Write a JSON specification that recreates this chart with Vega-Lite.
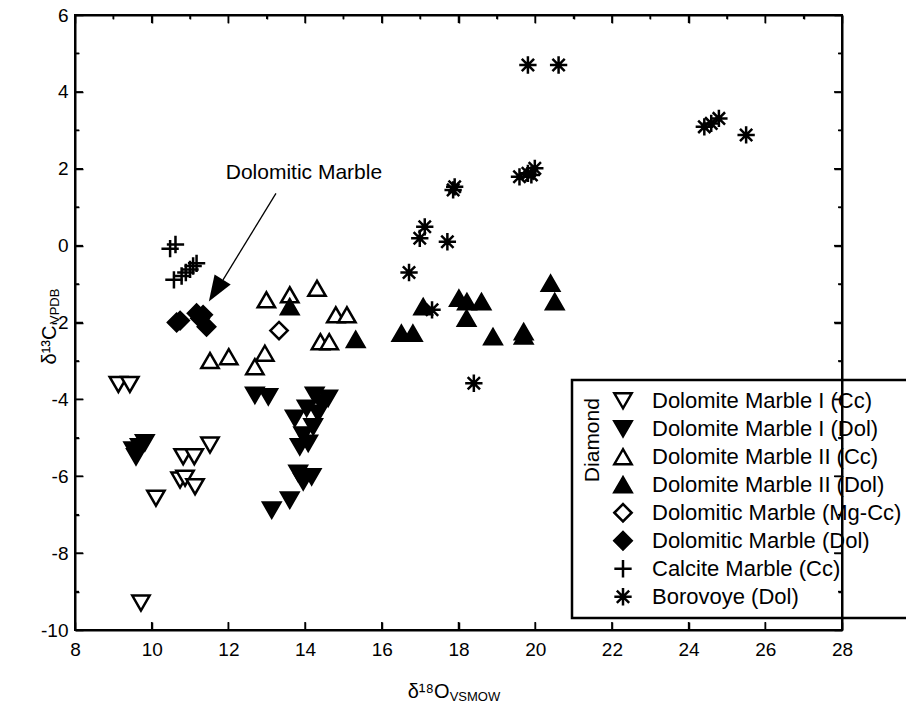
{
  "$schema": "https://vega.github.io/schema/vega-lite/v6.json",
  "width": 767,
  "height": 615,
  "autosize": {"type": "none"},
  "padding": {"left": 75, "top": 15, "right": 64, "bottom": 75},
  "background": "white",
  "config": {
    "font": "Liberation Sans",
    "locale": {"number": {"decimal": ".", "thousands": ",", "grouping": [3], "currency": ["$", ""], "minus": "-"}},
    "view": {"stroke": "black", "strokeWidth": 2},
    "axis": {"grid": false, "domainColor": "black", "domainWidth": 2, "tickColor": "black", "tickWidth": 1.5, "labelFontSize": 19, "labelColor": "black", "titleColor": "black", "titleFontWeight": "normal", "titleFontSize": 20, "labelFlush": false, "labelOverlap": false},
    "legend": {"strokeWidth": 2.5}
  },
  "resolve": {"axis": {"x": "independent", "y": "independent"}},
  "layer": [
    {
      "data": {"values": [
        {"series": "Dolomite Marble I (Cc)", "x": 9.13, "y": -3.61},
        {"series": "Dolomite Marble I (Cc)", "x": 9.43, "y": -3.61},
        {"series": "Dolomite Marble I (Cc)", "x": 10.82, "y": -5.49},
        {"series": "Dolomite Marble I (Cc)", "x": 11.11, "y": -5.49},
        {"series": "Dolomite Marble I (Cc)", "x": 11.52, "y": -5.19},
        {"series": "Dolomite Marble I (Cc)", "x": 10.74, "y": -6.10},
        {"series": "Dolomite Marble I (Cc)", "x": 10.87, "y": -6.05},
        {"series": "Dolomite Marble I (Cc)", "x": 11.13, "y": -6.27},
        {"series": "Dolomite Marble I (Cc)", "x": 10.11, "y": -6.57},
        {"series": "Dolomite Marble I (Cc)", "x": 9.72, "y": -9.30},
        {"series": "Dolomite Marble I (Dol)", "x": 9.82, "y": -5.13},
        {"series": "Dolomite Marble I (Dol)", "x": 9.69, "y": -5.23},
        {"series": "Dolomite Marble I (Dol)", "x": 9.59, "y": -5.49},
        {"series": "Dolomite Marble I (Dol)", "x": 9.52, "y": -5.32},
        {"series": "Dolomite Marble I (Dol)", "x": 12.69, "y": -3.89},
        {"series": "Dolomite Marble I (Dol)", "x": 13.04, "y": -3.93},
        {"series": "Dolomite Marble I (Dol)", "x": 14.25, "y": -3.89},
        {"series": "Dolomite Marble I (Dol)", "x": 14.60, "y": -3.97},
        {"series": "Dolomite Marble I (Dol)", "x": 14.04, "y": -4.23},
        {"series": "Dolomite Marble I (Dol)", "x": 13.73, "y": -4.49},
        {"series": "Dolomite Marble I (Dol)", "x": 14.34, "y": -4.36},
        {"series": "Dolomite Marble I (Dol)", "x": 14.43, "y": -4.10},
        {"series": "Dolomite Marble I (Dol)", "x": 14.21, "y": -4.71},
        {"series": "Dolomite Marble I (Dol)", "x": 13.95, "y": -4.93},
        {"series": "Dolomite Marble I (Dol)", "x": 13.86, "y": -5.23},
        {"series": "Dolomite Marble I (Dol)", "x": 14.08, "y": -5.14},
        {"series": "Dolomite Marble I (Dol)", "x": 13.82, "y": -5.92},
        {"series": "Dolomite Marble I (Dol)", "x": 14.17, "y": -6.01},
        {"series": "Dolomite Marble I (Dol)", "x": 13.95, "y": -6.14},
        {"series": "Dolomite Marble I (Dol)", "x": 13.60, "y": -6.62},
        {"series": "Dolomite Marble I (Dol)", "x": 13.13, "y": -6.88},
        {"series": "Dolomite Marble II (Cc)", "x": 11.52, "y": -2.99},
        {"series": "Dolomite Marble II (Cc)", "x": 12.01, "y": -2.89},
        {"series": "Dolomite Marble II (Cc)", "x": 12.95, "y": -2.80},
        {"series": "Dolomite Marble II (Cc)", "x": 12.69, "y": -3.15},
        {"series": "Dolomite Marble II (Cc)", "x": 12.99, "y": -1.41},
        {"series": "Dolomite Marble II (Cc)", "x": 13.60, "y": -1.28},
        {"series": "Dolomite Marble II (Cc)", "x": 14.31, "y": -1.11},
        {"series": "Dolomite Marble II (Cc)", "x": 14.80, "y": -1.80},
        {"series": "Dolomite Marble II (Cc)", "x": 15.09, "y": -1.80},
        {"series": "Dolomite Marble II (Cc)", "x": 14.40, "y": -2.50},
        {"series": "Dolomite Marble II (Cc)", "x": 14.63, "y": -2.50},
        {"series": "Dolomite Marble II (Dol)", "x": 13.60, "y": -1.59},
        {"series": "Dolomite Marble II (Dol)", "x": 15.32, "y": -2.44},
        {"series": "Dolomite Marble II (Dol)", "x": 16.51, "y": -2.28},
        {"series": "Dolomite Marble II (Dol)", "x": 16.81, "y": -2.28},
        {"series": "Dolomite Marble II (Dol)", "x": 17.08, "y": -1.59},
        {"series": "Dolomite Marble II (Dol)", "x": 18.01, "y": -1.37},
        {"series": "Dolomite Marble II (Dol)", "x": 18.22, "y": -1.46},
        {"series": "Dolomite Marble II (Dol)", "x": 18.60, "y": -1.46},
        {"series": "Dolomite Marble II (Dol)", "x": 18.21, "y": -1.89},
        {"series": "Dolomite Marble II (Dol)", "x": 18.90, "y": -2.37},
        {"series": "Dolomite Marble II (Dol)", "x": 19.70, "y": -2.24},
        {"series": "Dolomite Marble II (Dol)", "x": 19.70, "y": -2.35},
        {"series": "Dolomite Marble II (Dol)", "x": 20.40, "y": -0.98},
        {"series": "Dolomite Marble II (Dol)", "x": 20.51, "y": -1.46},
        {"series": "Dolomitic Marble (Mg-Cc)", "x": 13.32, "y": -2.21},
        {"series": "Dolomitic Marble (Dol)", "x": 10.65, "y": -2.00},
        {"series": "Dolomitic Marble (Dol)", "x": 10.74, "y": -1.95},
        {"series": "Dolomitic Marble (Dol)", "x": 11.17, "y": -1.76},
        {"series": "Dolomitic Marble (Dol)", "x": 11.26, "y": -1.89},
        {"series": "Dolomitic Marble (Dol)", "x": 11.43, "y": -2.11},
        {"series": "Dolomitic Marble (Dol)", "x": 11.34, "y": -1.80},
        {"series": "Calcite Marble (Cc)", "x": 10.48, "y": -0.08},
        {"series": "Calcite Marble (Cc)", "x": 10.62, "y": 0.03},
        {"series": "Calcite Marble (Cc)", "x": 10.58, "y": -0.89},
        {"series": "Calcite Marble (Cc)", "x": 10.78, "y": -0.79},
        {"series": "Calcite Marble (Cc)", "x": 10.89, "y": -0.70},
        {"series": "Calcite Marble (Cc)", "x": 11.00, "y": -0.62},
        {"series": "Calcite Marble (Cc)", "x": 11.08, "y": -0.53},
        {"series": "Calcite Marble (Cc)", "x": 11.17, "y": -0.46},
        {"series": "Borovoye (Dol)", "x": 19.81, "y": 4.70},
        {"series": "Borovoye (Dol)", "x": 20.61, "y": 4.70},
        {"series": "Borovoye (Dol)", "x": 24.41, "y": 3.09},
        {"series": "Borovoye (Dol)", "x": 24.59, "y": 3.18},
        {"series": "Borovoye (Dol)", "x": 24.79, "y": 3.31},
        {"series": "Borovoye (Dol)", "x": 25.50, "y": 2.88},
        {"series": "Borovoye (Dol)", "x": 19.59, "y": 1.79},
        {"series": "Borovoye (Dol)", "x": 19.81, "y": 1.88},
        {"series": "Borovoye (Dol)", "x": 19.99, "y": 2.01},
        {"series": "Borovoye (Dol)", "x": 19.90, "y": 1.84},
        {"series": "Borovoye (Dol)", "x": 17.86, "y": 1.45},
        {"series": "Borovoye (Dol)", "x": 17.90, "y": 1.53},
        {"series": "Borovoye (Dol)", "x": 17.12, "y": 0.49},
        {"series": "Borovoye (Dol)", "x": 16.99, "y": 0.19},
        {"series": "Borovoye (Dol)", "x": 17.71, "y": 0.10},
        {"series": "Borovoye (Dol)", "x": 16.71, "y": -0.70},
        {"series": "Borovoye (Dol)", "x": 17.31, "y": -1.67},
        {"series": "Borovoye (Dol)", "x": 18.40, "y": -3.58}
      ]},
      "mark": {"type": "point", "filled": true, "stroke": "black", "strokeWidth": 2.5, "size": 300, "opacity": 1},
      "encoding": {
        "x": {"field": "x", "type": "quantitative", "scale": {"domain": [8, 28], "nice": false, "zero": false},
          "axis": {"orient": "bottom", "values": [8, 10, 12, 14, 16, 18, 20, 22, 24, 26, 28], "tickSize": -8, "labelPadding": 18,
            "title": "δ¹⁸O", "titleX": 374, "titleY": 67, "titleAlign": "right", "titleBaseline": "alphabetic"}},
        "y": {"field": "y", "type": "quantitative", "scale": {"domain": [-10, 6], "nice": false, "zero": false},
          "axis": {"orient": "left", "values": [-10, -9, -8, -7, -6, -5, -4, -3, -2, -1, 0, 1, 2, 3, 4, 5, 6],
            "tickSize": {"condition": {"test": "datum.value % 2 === 0", "value": -8}, "value": -4},
            "labelPadding": 15, "labelOpacity": {"condition": {"test": "datum.value % 2 === 0", "value": 1}, "value": 0},
            "title": "δ¹³C", "titleX": -20, "titleY": 349, "titleAngle": 270, "titleAlign": "left", "titleBaseline": "alphabetic"}},
        "shape": {"field": "series", "type": "nominal",
          "scale": {"domain": ["Dolomite Marble I (Cc)", "Dolomite Marble I (Dol)", "Dolomite Marble II (Cc)", "Dolomite Marble II (Dol)", "Dolomitic Marble (Mg-Cc)", "Dolomitic Marble (Dol)", "Calcite Marble (Cc)", "Borovoye (Dol)"],
            "range": ["triangle-down", "triangle-down", "triangle-up", "triangle-up", "diamond", "diamond", "M-1,0L1,0M0,-1L0,1", "M0,-1L0,1M-1,0L1,0M-0.71,-0.71L0.71,0.71M-0.71,0.71L0.71,-0.71"]},
          "legend": {"title": null, "orient": "none", "legendX": 497, "legendY": 365, "padding": 7, "strokeColor": "black", "symbolOffset": 33, "labelOffset": 18, "labelFontSize": 22, "labelColor": "black", "clipHeight": 27.5, "rowPadding": 0, "symbolSize": 300, "symbolStrokeWidth": 2.5, "labelLimit": 400,
            "encode": {"symbols": {"stroke": {"value": "black"}, "strokeWidth": {"value": 2.5}}}}},
        "fill": {"field": "series", "type": "nominal",
          "scale": {"domain": ["Dolomite Marble I (Cc)", "Dolomite Marble I (Dol)", "Dolomite Marble II (Cc)", "Dolomite Marble II (Dol)", "Dolomitic Marble (Mg-Cc)", "Dolomitic Marble (Dol)", "Calcite Marble (Cc)", "Borovoye (Dol)"],
            "range": ["white", "black", "white", "black", "white", "black", "black", "black"]},
          "legend": {"title": null, "orient": "none", "legendX": 497, "legendY": 365, "padding": 7, "strokeColor": "black", "symbolOffset": 33, "labelOffset": 18, "labelFontSize": 22, "labelColor": "black", "clipHeight": 27.5, "rowPadding": 0, "symbolSize": 300, "symbolStrokeWidth": 2.5, "labelLimit": 400,
            "encode": {"symbols": {"stroke": {"value": "black"}, "strokeWidth": {"value": 2.5}}}}}
      }
    },
    {
      "data": {"values": [{"x": 13.97, "y": 1.88, "label": "Dolomitic Marble"}]},
      "mark": {"type": "text", "fontSize": 21, "align": "center", "baseline": "middle", "color": "black"},
      "encoding": {
        "x": {"field": "x", "type": "quantitative", "scale": {"domain": [8, 28], "nice": false, "zero": false},
          "axis": {"orient": "top", "values": [8, 9, 10, 11, 12, 13, 14, 15, 16, 17, 18, 19, 20, 21, 22, 23, 24, 25, 26, 27, 28],
            "tickSize": {"condition": {"test": "datum.value % 2 === 0", "value": -8}, "value": -4}, "labels": false, "title": null}},
        "y": {"field": "y", "type": "quantitative", "scale": {"domain": [-10, 6], "nice": false, "zero": false},
          "axis": {"orient": "right", "values": [-10, -9, -8, -7, -6, -5, -4, -3, -2, -1, 0, 1, 2, 3, 4, 5, 6],
            "tickSize": {"condition": {"test": "datum.value % 2 === 0", "value": -8}, "value": -4}, "labels": false, "title": null}},
        "text": {"field": "label"}
      }
    },
    {
      "data": {"values": [
        {"x": 8, "x2": 8.104, "y": -9, "y2": -9},
        {"x": 8, "x2": 8.208, "y": -8, "y2": -8},
        {"x": 8, "x2": 8.104, "y": -7, "y2": -7},
        {"x": 8, "x2": 8.208, "y": -6, "y2": -6},
        {"x": 8, "x2": 8.104, "y": -5, "y2": -5},
        {"x": 8, "x2": 8.208, "y": -4, "y2": -4},
        {"x": 8, "x2": 8.104, "y": -3, "y2": -3},
        {"x": 8, "x2": 8.208, "y": -2, "y2": -2},
        {"x": 8, "x2": 8.104, "y": -1, "y2": -1},
        {"x": 8, "x2": 8.208, "y": 0, "y2": 0},
        {"x": 8, "x2": 8.104, "y": 1, "y2": 1},
        {"x": 8, "x2": 8.208, "y": 2, "y2": 2},
        {"x": 8, "x2": 8.104, "y": 3, "y2": 3},
        {"x": 8, "x2": 8.208, "y": 4, "y2": 4},
        {"x": 8, "x2": 8.104, "y": 5, "y2": 5},
        {"x": 28, "x2": 27.896, "y": -9, "y2": -9},
        {"x": 28, "x2": 27.792, "y": -8, "y2": -8},
        {"x": 28, "x2": 27.896, "y": -7, "y2": -7},
        {"x": 28, "x2": 27.792, "y": -6, "y2": -6},
        {"x": 28, "x2": 27.896, "y": -5, "y2": -5},
        {"x": 28, "x2": 27.792, "y": -4, "y2": -4},
        {"x": 28, "x2": 27.896, "y": -3, "y2": -3},
        {"x": 28, "x2": 27.792, "y": -2, "y2": -2},
        {"x": 28, "x2": 27.896, "y": -1, "y2": -1},
        {"x": 28, "x2": 27.792, "y": 0, "y2": 0},
        {"x": 28, "x2": 27.896, "y": 1, "y2": 1},
        {"x": 28, "x2": 27.792, "y": 2, "y2": 2},
        {"x": 28, "x2": 27.896, "y": 3, "y2": 3},
        {"x": 28, "x2": 27.792, "y": 4, "y2": 4},
        {"x": 28, "x2": 27.896, "y": 5, "y2": 5},
        {"x": 10, "x2": 10, "y": -10, "y2": -9.792},
        {"x": 12, "x2": 12, "y": -10, "y2": -9.792},
        {"x": 14, "x2": 14, "y": -10, "y2": -9.792},
        {"x": 16, "x2": 16, "y": -10, "y2": -9.792},
        {"x": 18, "x2": 18, "y": -10, "y2": -9.792},
        {"x": 20, "x2": 20, "y": -10, "y2": -9.792},
        {"x": 22, "x2": 22, "y": -10, "y2": -9.792},
        {"x": 24, "x2": 24, "y": -10, "y2": -9.792},
        {"x": 26, "x2": 26, "y": -10, "y2": -9.792},
        {"x": 9, "x2": 9, "y": 6, "y2": 5.896},
        {"x": 10, "x2": 10, "y": 6, "y2": 5.792},
        {"x": 11, "x2": 11, "y": 6, "y2": 5.896},
        {"x": 12, "x2": 12, "y": 6, "y2": 5.792},
        {"x": 13, "x2": 13, "y": 6, "y2": 5.896},
        {"x": 14, "x2": 14, "y": 6, "y2": 5.792},
        {"x": 15, "x2": 15, "y": 6, "y2": 5.896},
        {"x": 16, "x2": 16, "y": 6, "y2": 5.792},
        {"x": 17, "x2": 17, "y": 6, "y2": 5.896},
        {"x": 18, "x2": 18, "y": 6, "y2": 5.792},
        {"x": 19, "x2": 19, "y": 6, "y2": 5.896},
        {"x": 20, "x2": 20, "y": 6, "y2": 5.792},
        {"x": 21, "x2": 21, "y": 6, "y2": 5.896},
        {"x": 22, "x2": 22, "y": 6, "y2": 5.792},
        {"x": 23, "x2": 23, "y": 6, "y2": 5.896},
        {"x": 24, "x2": 24, "y": 6, "y2": 5.792},
        {"x": 25, "x2": 25, "y": 6, "y2": 5.896},
        {"x": 26, "x2": 26, "y": 6, "y2": 5.792},
        {"x": 27, "x2": 27, "y": 6, "y2": 5.896}
      ]},
      "mark": {"type": "rule", "color": "black", "strokeWidth": 1.5},
      "encoding": {
        "x": {"field": "x", "type": "quantitative", "scale": {"domain": [8, 28], "nice": false, "zero": false}, "axis": null},
        "y": {"field": "y", "type": "quantitative", "scale": {"domain": [-10, 6], "nice": false, "zero": false}, "axis": null},
        "x2": {"field": "x2"},
        "y2": {"field": "y2"}
      }
    },
    {
      "data": {"values": [{"x": 13.24, "y": 1.36, "x2": 11.86, "y2": -0.89}]},
      "mark": {"type": "rule", "color": "black", "strokeWidth": 1.3},
      "encoding": {
        "x": {"field": "x", "type": "quantitative", "scale": {"domain": [8, 28], "nice": false, "zero": false}, "axis": null},
        "y": {"field": "y", "type": "quantitative", "scale": {"domain": [-10, 6], "nice": false, "zero": false}, "axis": null},
        "x2": {"field": "x2"},
        "y2": {"field": "y2"}
      }
    },
    {
      "data": {"values": [{"x": 11.67, "y": -1.17}]},
      "mark": {"type": "point", "shape": "M0,1L-0.73,-1L0.73,-1Z", "filled": true, "color": "black", "size": 676, "angle": 32, "opacity": 1},
      "encoding": {
        "x": {"field": "x", "type": "quantitative", "scale": {"domain": [8, 28], "nice": false, "zero": false}, "axis": null},
        "y": {"field": "y", "type": "quantitative", "scale": {"domain": [-10, 6], "nice": false, "zero": false}, "axis": null}
      }
    },
    {
      "data": {"values": [{"x": 21.5, "y": -5.06, "label": "Diamond"}]},
      "mark": {"type": "text", "fontSize": 21, "angle": 270, "align": "center", "baseline": "middle", "color": "black"},
      "encoding": {
        "x": {"field": "x", "type": "quantitative", "scale": {"domain": [8, 28], "nice": false, "zero": false}, "axis": null},
        "y": {"field": "y", "type": "quantitative", "scale": {"domain": [-10, 6], "nice": false, "zero": false}, "axis": null},
        "text": {"field": "label"}
      }
    },
    {
      "data": {"values": [{"x": 17.77, "y": -11.85, "label": "VSMOW"}]},
      "mark": {"type": "text", "fontSize": 13, "align": "left", "baseline": "alphabetic", "color": "black"},
      "encoding": {
        "x": {"field": "x", "type": "quantitative", "scale": {"domain": [8, 28], "nice": false, "zero": false}, "axis": null},
        "y": {"field": "y", "type": "quantitative", "scale": {"domain": [-10, 6], "nice": false, "zero": false}, "axis": null},
        "text": {"field": "label"}
      }
    },
    {
      "data": {"values": [{"x": 7.583, "y": -2.04, "label": "VPDB"}]},
      "mark": {"type": "text", "fontSize": 13, "angle": 270, "align": "left", "baseline": "alphabetic", "color": "black"},
      "encoding": {
        "x": {"field": "x", "type": "quantitative", "scale": {"domain": [8, 28], "nice": false, "zero": false}, "axis": null},
        "y": {"field": "y", "type": "quantitative", "scale": {"domain": [-10, 6], "nice": false, "zero": false}, "axis": null},
        "text": {"field": "label"}
      }
    }
  ]
}
